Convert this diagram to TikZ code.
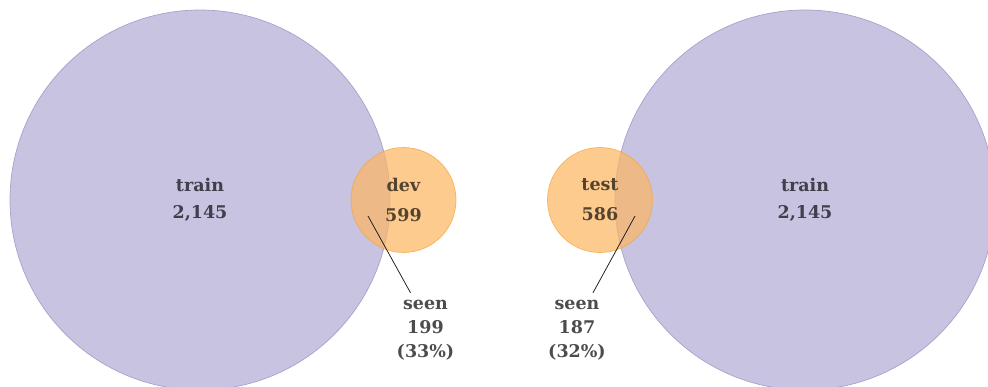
\documentclass[tikz,border=0pt]{standalone}
\usepackage{fontspec}
\setmainfont{DejaVu Serif}
\definecolor{setpurple}{HTML}{C7C3E0}
\definecolor{setpurpleedge}{HTML}{A8A1CC}
\definecolor{setorange}{HTML}{FEB560}
\definecolor{setorangeedge}{HTML}{F5A740}
\definecolor{labelgray}{HTML}{423E4C}
\definecolor{labelbrown}{HTML}{54432F}
\definecolor{seengray}{HTML}{4C4C4C}
\tikzset{
  bigset/.style={circle, inner sep=0pt, minimum size=380pt, fill=setpurple,
    draw=setpurpleedge, line width=0.7pt, align=center, text=labelgray,
    font=\fontsize{17.5}{27}\selectfont\bfseries},
  smallset/.style={circle, inner sep=0pt, minimum size=105pt, fill=setorange,
    draw=setorangeedge, fill opacity=0.7, draw opacity=0.8, text opacity=1,
    line width=0.7pt, align=center, text=labelbrown,
    font=\fontsize{17.5}{30}\selectfont\bfseries},
  seenlabel/.style={align=center, text=seengray, inner sep=0pt,
    font=\fontsize{17.5}{24}\selectfont\bfseries},
  pointer/.style={draw=black!90, line width=0.75pt}
}
\begin{document}
\begin{tikzpicture}[x=1pt,y=-1pt]
  \useasboundingbox (0,0) rectangle (988,387);
  \clip (0,0) rectangle (988,387);
  % large training sets
  \node[bigset] (trainL) at (200,200) {train\\2,145};
  \node[bigset] (trainR) at (805,200) {train\\2,145};
  % dev and test sets overlapping them
  \node[smallset] (dev) at (403.5,200) {dev\\599};
  \node[smallset] (test) at (600,200) {test\\586};
  % counts of items seen in training
  \node[seenlabel] (seenDev) at (425.5,330) {seen\\199\\(33\%)};
  \node[seenlabel] (seenTest) at (577,330) {seen\\187\\(32\%)};
  \coordinate (ovDev) at (368,216);
  \coordinate (ovTest) at (635,216);
  \draw[pointer] (ovDev) -- ([xshift=-15pt,yshift=7pt]seenDev.north);
  \draw[pointer] (ovTest) -- ([xshift=16pt,yshift=7pt]seenTest.north);
\end{tikzpicture}
\end{document}
